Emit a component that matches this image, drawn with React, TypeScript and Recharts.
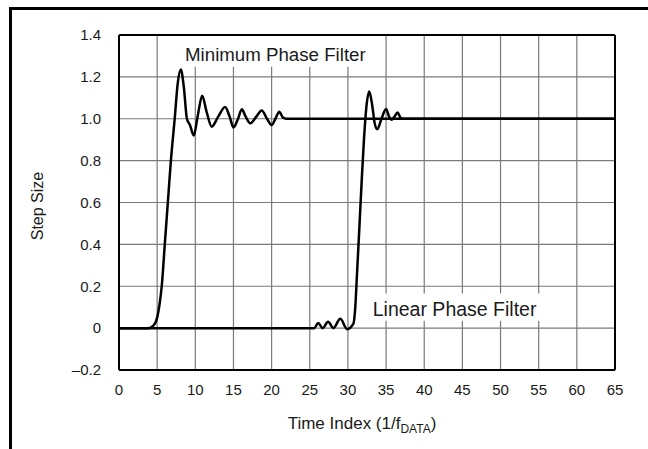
import React from "react";
import {
  LineChart,
  Line,
  XAxis,
  YAxis,
  CartesianGrid,
  ReferenceLine,
  ReferenceArea,
  Label,
} from "recharts";

// sampled step responses (time index, step size)
const minPhaseX = [
  0, 3.8, 4.5, 5, 5.3, 5.6, 6.0, 6.4, 6.8, 7.3, 7.7, 8.1, 8.5, 8.9, 9.3, 9.8,
  10.3, 10.9, 11.5, 12.15, 13.0, 13.9, 14.5, 15.0, 15.6, 16.1, 16.6, 17.2,
  18.0, 18.7, 19.4, 20.0, 20.5, 21.0, 21.5, 22, 65,
];
const minPhaseY = [
  0, 0, 0.012, 0.05, 0.11, 0.2, 0.4, 0.6, 0.8, 1.0, 1.17, 1.235, 1.15, 1.0,
  0.97, 0.92, 1.01, 1.11, 1.03, 0.962, 1.01, 1.056, 1.01, 0.958, 1.0, 1.045,
  1.01, 0.978, 1.01, 1.04, 1.0, 0.97, 1.0, 1.033, 1.005, 1.0, 1.0,
];

const linPhaseX = [
  0, 25.6, 26.1, 26.7, 27.4, 28.1, 29.0, 29.9, 30.7, 31.0, 31.15, 31.5, 31.8,
  32.1, 32.4, 32.8, 33.2, 33.5, 33.85, 34.4, 35.0, 35.4, 35.7, 36.1, 36.5,
  36.9, 37.2, 65,
];
const linPhaseY = [
  0, 0, 0.025, 0.0, 0.03, 0.0, 0.045, -0.005, 0.02, 0.12, 0.23, 0.48, 0.7,
  0.9, 1.05, 1.13, 1.06, 0.98, 0.95, 1.0, 1.046, 1.01, 0.995, 1.01, 1.03,
  1.005, 1.0, 1.0,
];

const xTicks = [0, 5, 10, 15, 20, 25, 30, 35, 40, 45, 50, 55, 60, 65];
const yTicks = [-0.2, 0, 0.2, 0.4, 0.6, 0.8, 1.0, 1.2, 1.4];
const yTickLabels = ["\u20130.2", "0", "0.2", "0.4", "0.6", "0.8", "1.0", "1.2", "1.4"];

const minPhase = minPhaseX.map((x, i) => ({ x, y: minPhaseY[i] }));
const linPhase = linPhaseX.map((x, i) => ({ x, y: linPhaseY[i] }));

const FONT = "'Liberation Sans', Arial, Helvetica, sans-serif";
const tickStyle = { fill: "#1a1a1a", fontSize: 15, fontFamily: FONT };

const Annotation = ({ viewBox, text, dx, dy, size }: any) => (
  <text
    x={viewBox.x + dx}
    y={viewBox.y + dy}
    fontSize={size}
    fontFamily={FONT}
    fill="#1a1a1a"
  >
    {text}
  </text>
);

const XTitle = () => (
  <text
    x={362}
    y={429}
    textAnchor="middle"
    fontSize={17}
    fontFamily={FONT}
    fill="#1a1a1a"
  >
    Time Index (1/f
    <tspan fontSize={12} dy={4}>DATA</tspan>
    <tspan dy={-4}>)</tspan>
  </text>
);

const YTitle = () => (
  <text
    x={37}
    y={206}
    transform="rotate(-90 37 206)"
    textAnchor="middle"
    dominantBaseline="central"
    fontSize={16}
    fontFamily={FONT}
    fill="#1a1a1a"
  >
    Step Size
  </text>
);

const App = () => {
  return (
    <div style={{ position: "absolute", left: 0, top: 0, width: 648, height: 449, background: "#fff" }}>
      <div style={{ position: "absolute", left: 9, top: 7, width: 639, height: 3, background: "#000" }} />
      <div style={{ position: "absolute", left: 9, top: 7, width: 3, height: 442, background: "#000" }} />
      <LineChart
        width={648}
        height={449}
        margin={{ top: 35, right: 33, left: 10, bottom: 49 }}
      >
        <CartesianGrid stroke="#7a7a7a" strokeWidth={1.2} />
        <XAxis
          dataKey="x"
          type="number"
          domain={[0, 65]}
          ticks={xTicks}
          tick={tickStyle}
          tickSize={0}
          tickMargin={14}
          height={30}
          axisLine={{ stroke: "#000", strokeWidth: 2 }}
          allowDuplicatedCategory={false}
        >
          <Label content={<XTitle />} />
        </XAxis>
        <YAxis
          type="number"
          domain={[-0.2, 1.4]}
          ticks={yTicks}
          tick={tickStyle}
          tickFormatter={(v: number) => yTickLabels[yTicks.indexOf(v)]}
          tickSize={0}
          tickMargin={18}
          width={109}
          axisLine={{ stroke: "#000", strokeWidth: 2 }}
        >
          <Label content={<YTitle />} />
        </YAxis>
        <ReferenceLine y={1.4} stroke="#000" strokeWidth={2} />
        <ReferenceLine x={65} stroke="#000" strokeWidth={2} />
        <ReferenceArea
          x1={8.0}
          x2={33.5}
          y1={1.248}
          y2={1.4}
          fill="#fff"
          fillOpacity={1}
          stroke="none"
          label={<Annotation text="Minimum Phase Filter" dx={5} dy={26} size={18.7} />}
        />
        <ReferenceArea
          x1={32.6}
          x2={56.6}
          y1={0.035}
          y2={0.165}
          fill="#fff"
          fillOpacity={1}
          stroke="none"
          label={<Annotation text="Linear Phase Filter" dx={5} dy={22} size={19.5} />}
        />
        <Line
          data={minPhase}
          dataKey="y"
          type="monotone"
          stroke="#000"
          strokeWidth={2.5}
          dot={false}
          isAnimationActive={false}
        />
        <Line
          data={linPhase}
          dataKey="y"
          type="monotone"
          stroke="#000"
          strokeWidth={2.5}
          dot={false}
          isAnimationActive={false}
        />
      </LineChart>
    </div>
  );
};

export default App;
